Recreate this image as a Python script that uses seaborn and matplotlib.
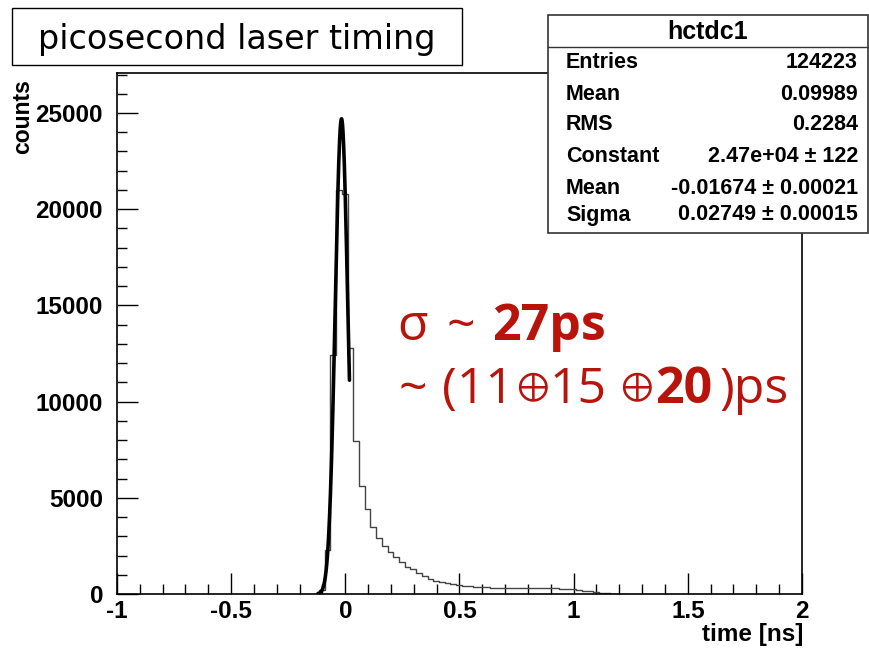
import numpy as np
import pandas as pd
import matplotlib
matplotlib.use("Agg")
import matplotlib.pyplot as plt
import seaborn as sns
from matplotlib.patches import Rectangle
from matplotlib.lines import Line2D
from matplotlib.ticker import MultipleLocator

# ---------------- data ----------------
bin_width = 0.025
bin_centers = [-0.1275, -0.1025, -0.0775, -0.0525, -0.0275, -0.0025, 0.0225, 0.0475,
               0.0725, 0.0975, 0.1225, 0.1475, 0.1725, 0.1975, 0.2225, 0.2475,
               0.2725, 0.2975, 0.3225, 0.3475, 0.3725, 0.3975, 0.4225, 0.4475,
               0.4725, 0.4975, 0.5225, 0.5475, 0.5725, 0.5975, 0.6225, 0.6475,
               0.6725, 0.6975, 0.7225, 0.7475, 0.7725, 0.7975, 0.8225, 0.8475,
               0.8725, 0.8975, 0.9225, 0.9475, 0.9725, 0.9975, 1.0225, 1.0475,
               1.0725, 1.0975, 1.1225, 1.1475, 1.1725, 1.1975, 1.2225]
counts = [10, 200, 2300, 12400, 21000, 20800, 12770, 7940,
          5600, 4400, 3500, 2890, 2490, 2190, 1900, 1640,
          1420, 1280, 1100, 930, 800, 700, 620, 560,
          510, 470, 430, 400, 380, 360, 345, 335,
          325, 320, 315, 310, 305, 300, 300, 300,
          295, 295, 290, 280, 265, 245, 200, 170,
          150, 110, 70, 40, 20, 10, 5]

# Gaussian fit parameters (from the stats box)
fit_constant = 24700.0
fit_mean = -0.01674
fit_sigma = 0.02749
fit_range = [-0.12, 0.018]

stats_title = "hctdc1"
stats_labels = ["Entries", "Mean", "RMS", "Constant", "Mean", "Sigma"]
stats_values = ["124223", "0.09989", "0.2284", "2.47e+04 \u00b1 122",
                "-0.01674 \u00b1 0.00021", "0.02749 \u00b1 0.00015"]

x_ticks = [-1, -0.5, 0, 0.5, 1, 1.5, 2]
x_tick_labels = ["-1", "-0.5", "0", "0.5", "1", "1.5", "2"]
y_ticks = [0, 5000, 10000, 15000, 20000, 25000]
y_tick_labels = ["0", "5000", "10000", "15000", "20000", "25000"]

title_text = "picosecond laser timing"
xlabel = "time [ns]"
ylabel = "counts"
# red annotation pieces: (text, weight, x position in px)
red_line1 = [("\u03c3", "normal", 397), ("~", "normal", 447), ("27ps", "bold", 492)]
red_line2 = [("~", "normal", 399), ("(11", "normal", 442), ("15", "normal", 550),
             ("20", "bold", 655), (")ps", "normal", 720)]
oplus_text = r"$\oplus$"
oplus_centers = [532, 636]

# ---------------- style ----------------
sns.set_theme(style="white")
plt.rcParams['font.family'] = ['DejaVu Sans']
HELV = ['Liberation Sans', 'DejaVu Sans']
RED_FONT = ['Open Sans', 'DejaVu Sans']

W, H = 870, 648
fig = plt.figure(figsize=(W / 100, H / 100), dpi=100)
fig.patch.set_facecolor("white")

def fx(px):
    return px / W

def fy(py):
    return 1 - py / H

ax_left, ax_right, ax_top, ax_bottom = 117, 802, 73, 594
ax = fig.add_axes([fx(ax_left), fy(ax_bottom), (ax_right - ax_left) / W, (ax_bottom - ax_top) / H])

df = pd.DataFrame({"time": bin_centers, "counts": counts})
lo = bin_centers[0] - bin_width / 2
hi = bin_centers[-1] + bin_width / 2
sns.histplot(data=df, x="time", weights="counts", binwidth=bin_width, binrange=(lo, hi),
             element="step", fill=False, color="#444444", linewidth=1.0, ax=ax)

xf = np.linspace(fit_range[0], fit_range[1], 300)
yf = fit_constant * np.exp(-0.5 * ((xf - fit_mean) / fit_sigma) ** 2)
sns.lineplot(x=xf, y=yf, color="black", linewidth=2.6, ax=ax, zorder=5)

ax.set_xlim(-1, 2)
ax.set_ylim(0, 27080)
ax.set_xlabel("")
ax.set_ylabel("")
ax.set_xticks(x_ticks)
ax.set_xticklabels(x_tick_labels)
ax.set_yticks(y_ticks)
ax.set_yticklabels(y_tick_labels)
ax.xaxis.set_minor_locator(MultipleLocator(0.1))
ax.yaxis.set_minor_locator(MultipleLocator(1000))
ax.tick_params(axis="both", which="both", direction="in", colors="black",
               top=False, right=False, bottom=True, left=True)
ax.tick_params(axis="both", which="major", length=15, width=1.0)
ax.tick_params(axis="both", which="minor", length=7, width=1.0)
ax.tick_params(axis="x", which="major", pad=4)
ax.tick_params(axis="y", which="major", pad=10)
for lab in ax.get_xticklabels() + ax.get_yticklabels():
    lab.set_fontweight("bold")
    lab.set_family(HELV)
    lab.set_fontsize(17.5)
for sp in ax.spines.values():
    sp.set_color("black")
    sp.set_linewidth(1.2)
ax.grid(False)

# axis titles
fig.text(fx(803), fy(634), xlabel, ha="right", va="center", fontsize=17.5,
         fontweight="bold", family=HELV, color="black")
fig.text(fx(23), fy(79), ylabel, ha="center", va="top", rotation=90,
         fontsize=16.5, fontweight="bold", family=HELV, color="black")

# title box
fig.add_artist(Rectangle((fx(12), fy(65)), 450 / W, 57 / H, transform=fig.transFigure,
                         facecolor="white", edgecolor="black", linewidth=1.0, zorder=3))
fig.text(fx(237), fy(39), title_text, ha="center", va="center", fontsize=24,
         color="black", zorder=4)

# stats box
fig.add_artist(Rectangle((fx(548), fy(233)), 320 / W, 218 / H, transform=fig.transFigure,
                         facecolor="white", edgecolor="#333333", linewidth=1.2, zorder=3))
fig.add_artist(Line2D([fx(548), fx(868)], [fy(47), fy(47)], transform=fig.transFigure,
                      color="#333333", linewidth=1.0, zorder=4))
fig.text(fx(708), fy(32), stats_title, ha="center", va="center", fontsize=18,
         fontweight="bold", family=HELV, color="black", zorder=4)
row_y = [63, 95, 125, 157, 188, 215]
for yy, lab, val in zip(row_y, stats_labels, stats_values):
    fig.text(fx(566), fy(yy), lab, ha="left", va="center", fontsize=15.5,
             fontweight="bold", family=HELV, color="black", zorder=4)
    fig.text(fx(858), fy(yy), val, ha="right", va="center", fontsize=15.5,
             fontweight="bold", family=HELV, color="black", zorder=4)

# red annotation text
red = "#b8140c"
for pieces, ybase in ((red_line1, 340), (red_line2, 403)):
    for s, wgt, xpos in pieces:
        fig.text(fx(xpos), fy(ybase), s, fontsize=36, fontweight=wgt, family=RED_FONT,
                 color=red, ha="left", va="baseline", zorder=6)
for cx in oplus_centers:
    fig.text(fx(cx), fy(386), oplus_text, fontsize=28, math_fontfamily="stix",
             color=red, ha="center", va="center", zorder=6)

fig.savefig("out.png", dpi=100)
